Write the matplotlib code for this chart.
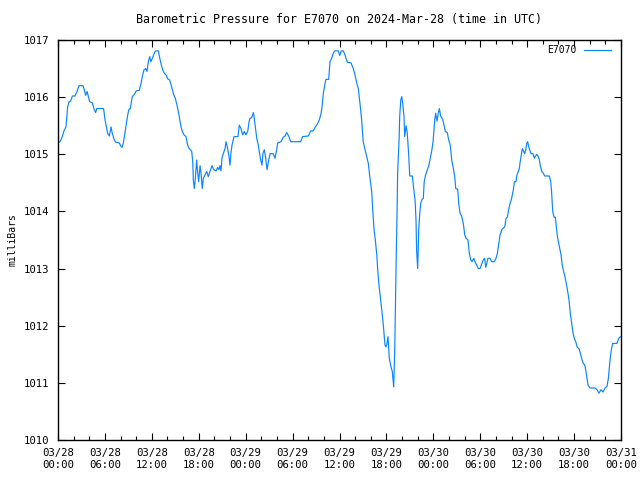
"""Barometric pressure trace for station E7070, gnuplot style."""

import numpy as np
import matplotlib
matplotlib.use("Agg")
import matplotlib.pyplot as plt
import matplotlib.dates as mdates

# hours since 2024-03-28 00:00 UTC
hours = [
    0.00, 0.26, 0.55, 0.77, 1.02, 1.11, 1.24, 1.41, 1.62, 1.83, 2.17, 2.43, 2.69, 3.20,
    3.36, 3.54, 3.71, 3.88, 4.05, 4.39, 4.64, 4.82, 4.95, 5.84, 6.01, 6.23, 6.36, 6.56,
    6.78, 6.94, 7.20, 7.38, 7.84, 8.02, 8.18, 8.35, 8.48, 8.66, 8.91, 9.08, 9.25, 9.50,
    9.76, 10.01, 10.40, 10.61, 10.78, 11.00, 11.22, 11.38, 11.55, 11.73, 11.86, 12.06,
    12.24, 12.41, 12.57, 12.83, 13.01, 13.17, 13.39, 13.59, 13.85, 14.03, 14.29, 14.54,
    14.80, 15.00, 15.22, 15.47, 15.73, 15.90, 16.11, 16.37, 16.59, 16.79, 17.10, 17.23,
    17.30, 17.43, 17.56, 17.74, 17.82, 17.99, 18.16, 18.29, 18.45, 18.58, 18.80, 19.02,
    19.22, 19.44, 19.70, 19.91, 20.21, 20.42, 20.59, 20.72, 20.85, 20.97, 21.14, 21.36,
    21.49, 21.65, 21.83, 22.00, 22.12, 22.25, 22.51, 23.02, 23.19, 23.40, 23.62, 23.83,
    24.04, 24.26, 24.43, 24.55, 24.77, 24.98, 25.10, 25.23, 25.41, 25.62, 25.74, 25.92,
    26.09, 26.22, 26.38, 26.56, 26.73, 26.95, 27.11, 27.54, 27.75, 27.97, 28.10, 28.52,
    28.81, 29.03, 29.25, 29.50, 29.76, 31.04, 31.29, 32.01, 32.32, 32.65, 32.87, 33.16,
    33.42, 33.64, 33.76, 33.93, 34.15, 34.27, 34.62, 34.79, 35.00, 35.21, 35.39, 35.85,
    36.03, 36.23, 36.49, 36.70, 37.00, 37.47, 37.77, 37.98, 38.20, 38.41, 38.62, 38.84,
    39.04, 39.26, 39.48, 39.68, 39.90, 40.12, 40.25, 40.41, 40.58, 40.76, 40.89, 41.05,
    41.27, 41.40, 41.57, 41.73, 41.82, 41.95, 42.08, 42.20, 42.37, 42.59, 42.75, 42.93,
    43.06, 43.23, 43.36, 43.44, 43.61, 43.70, 43.83, 43.96, 44.08, 44.25, 44.34, 44.51,
    44.67, 44.85, 44.98, 45.31, 45.49, 45.66, 45.79, 45.87, 46.00, 46.13, 46.26, 46.38,
    46.55, 46.72, 46.84, 47.02, 47.23, 47.41, 47.57, 47.79, 47.96, 48.09, 48.18, 48.30,
    48.47, 48.64, 48.76, 48.94, 49.20, 49.37, 49.53, 49.79, 49.97, 50.17, 50.35, 50.56,
    50.73, 50.86, 51.12, 51.25, 51.41, 51.63, 51.83, 52.01, 52.18, 52.43, 52.60, 52.78,
    52.95, 53.16, 53.33, 53.55, 53.75, 53.97, 54.19, 54.39, 54.57, 54.70, 54.83, 54.99,
    55.25, 55.47, 55.80, 56.02, 56.18, 56.36, 56.53, 56.78, 57.13, 57.30, 57.46, 57.64,
    57.81, 58.02, 58.23, 58.36, 58.57, 58.70, 58.87, 59.00, 59.09, 59.25, 59.38, 59.51,
    59.69, 59.82, 59.95, 60.07, 60.20, 60.36, 60.49, 60.75, 60.92, 61.04, 61.22, 61.39,
    61.55, 61.68, 61.86, 62.07, 62.24, 62.83, 63.01, 63.14, 63.27, 63.43, 63.60, 63.73,
    63.86, 64.04, 64.16, 64.33, 64.49, 64.67, 64.84, 65.01, 65.19, 65.35, 65.52, 65.70,
    65.86, 66.03, 66.21, 66.38, 66.67, 66.85, 67.01, 67.18, 67.36, 67.49, 67.65, 67.78,
    68.04, 68.68, 68.93, 69.19, 69.45, 69.70, 69.96, 70.21, 70.38, 70.60, 70.77, 70.94,
    71.46, 71.71, 71.97,
]

pressure_mb = [
    1015.20, 1015.22, 1015.31, 1015.41, 1015.48, 1015.65, 1015.83, 1015.92, 1015.93, 1016.02,
    1016.02, 1016.10, 1016.20, 1016.20, 1016.13, 1016.03, 1016.10, 1016.01, 1015.92, 1015.90,
    1015.78, 1015.73, 1015.80, 1015.80, 1015.60, 1015.45, 1015.36, 1015.32, 1015.48, 1015.37,
    1015.25, 1015.21, 1015.20, 1015.15, 1015.12, 1015.19, 1015.31, 1015.48, 1015.69, 1015.79,
    1015.80, 1016.01, 1016.05, 1016.11, 1016.12, 1016.24, 1016.36, 1016.48, 1016.50, 1016.45,
    1016.62, 1016.71, 1016.62, 1016.68, 1016.74, 1016.80, 1016.81, 1016.81, 1016.68, 1016.59,
    1016.48, 1016.42, 1016.38, 1016.32, 1016.30, 1016.18, 1016.04, 1015.98, 1015.86, 1015.69,
    1015.48, 1015.40, 1015.34, 1015.31, 1015.16, 1015.10, 1015.05, 1014.87, 1014.56, 1014.40,
    1014.58, 1014.90, 1014.75, 1014.52, 1014.80, 1014.68, 1014.40, 1014.58, 1014.64, 1014.70,
    1014.61, 1014.70, 1014.80, 1014.73, 1014.71, 1014.77, 1014.73, 1014.80, 1014.71, 1014.93,
    1015.01, 1015.10, 1015.22, 1015.13, 1014.99, 1014.81, 1015.02, 1015.16, 1015.31, 1015.31,
    1015.51, 1015.45, 1015.34, 1015.40, 1015.34, 1015.40, 1015.57, 1015.63, 1015.64, 1015.73,
    1015.63, 1015.48, 1015.28, 1015.16, 1015.05, 1014.90, 1014.81, 1015.02, 1015.08, 1014.93,
    1014.73, 1014.90, 1015.01, 1015.01, 1014.93, 1015.08, 1015.20, 1015.22, 1015.30, 1015.32,
    1015.38, 1015.32, 1015.22, 1015.22, 1015.31, 1015.32, 1015.41, 1015.41, 1015.47, 1015.53,
    1015.60, 1015.71, 1015.83, 1016.07, 1016.24, 1016.31, 1016.31, 1016.62, 1016.68, 1016.77,
    1016.81, 1016.81, 1016.73, 1016.81, 1016.81, 1016.74, 1016.61, 1016.60, 1016.50, 1016.39,
    1016.25, 1016.14, 1015.89, 1015.60, 1015.22, 1015.08, 1014.96, 1014.84, 1014.58, 1014.35,
    1014.03, 1013.68, 1013.50, 1013.24, 1012.98, 1012.71, 1012.45, 1012.28, 1012.07, 1011.81,
    1011.66, 1011.63, 1011.69, 1011.81, 1011.43, 1011.28, 1011.20, 1010.93, 1011.60, 1013.03,
    1014.03, 1014.67, 1015.25, 1015.66, 1015.95, 1016.01, 1015.89, 1015.66, 1015.31, 1015.50,
    1015.37, 1014.99, 1014.62, 1014.62, 1014.40, 1014.20, 1013.85, 1013.30, 1013.00, 1013.68,
    1013.97, 1014.14, 1014.21, 1014.23, 1014.52, 1014.64, 1014.73, 1014.80, 1014.90, 1015.05,
    1015.22, 1015.43, 1015.61, 1015.72, 1015.58, 1015.72, 1015.80, 1015.67, 1015.61, 1015.51,
    1015.40, 1015.38, 1015.25, 1015.16, 1014.90, 1014.75, 1014.61, 1014.40, 1014.39, 1014.14,
    1013.97, 1013.91, 1013.79, 1013.59, 1013.53, 1013.50, 1013.27, 1013.15, 1013.12, 1013.18,
    1013.12, 1013.06, 1013.00, 1013.00, 1013.08, 1013.15, 1013.18, 1013.02, 1013.09, 1013.18,
    1013.18, 1013.12, 1013.12, 1013.18, 1013.26, 1013.43, 1013.59, 1013.69, 1013.73, 1013.88,
    1013.90, 1014.03, 1014.14, 1014.23, 1014.38, 1014.52, 1014.52, 1014.64, 1014.70, 1014.75,
    1014.85, 1014.99, 1015.10, 1015.06, 1015.01, 1015.08, 1015.19, 1015.22, 1015.13, 1015.06,
    1015.01, 1015.01, 1014.93, 1014.96, 1015.00, 1014.97, 1014.91, 1014.80, 1014.70, 1014.67,
    1014.62, 1014.62, 1014.52, 1014.32, 1014.00, 1013.90, 1013.90, 1013.73, 1013.56, 1013.44,
    1013.35, 1013.24, 1013.06, 1012.95, 1012.86, 1012.73, 1012.60, 1012.45, 1012.22, 1012.04,
    1011.87, 1011.78, 1011.72, 1011.63, 1011.59, 1011.49, 1011.40, 1011.34, 1011.31, 1011.23,
    1011.08, 1010.96, 1010.91, 1010.91, 1010.88, 1010.82, 1010.88, 1010.84, 1010.91, 1010.94,
    1011.08, 1011.40, 1011.58, 1011.69, 1011.69, 1011.78, 1011.81,
]

station = "E7070"
start = np.datetime64("2024-03-28T00:00")
end = np.datetime64("2024-03-31T00:00")
yticks = [1010, 1011, 1012, 1013, 1014, 1015, 1016, 1017]

times = start + (np.array(hours) * 60).round().astype("timedelta64[m]")

plt.rcParams["font.family"] = "DejaVu Sans Mono"
plt.rcParams["font.size"] = 7

fig = plt.figure(figsize=(6.4, 4.8), dpi=100)
ax = fig.add_axes([58 / 640, 40 / 480, 563 / 640, 400 / 480])

ax.plot(times, pressure_mb, color="#0a84ff", linewidth=0.85, label=station)

ax.set_xlim(start, end)
ax.set_ylim(1010, 1017)
ax.set_yticks(yticks)
ax.xaxis.set_major_locator(mdates.HourLocator(byhour=[0, 6, 12, 18]))
ax.xaxis.set_minor_locator(mdates.HourLocator(interval=2))
ax.xaxis.set_major_formatter(mdates.DateFormatter("%m/%d\n%H:%M"))

ax.tick_params(which="both", direction="in", top=True, right=True, width=0.8,
               labelsize=7.7)
ax.tick_params(which="major", length=5, pad=6)
ax.tick_params(which="minor", length=3)
for side in ax.spines.values():
    side.set_linewidth(1.0)

ax.set_ylabel("milliBars", labelpad=5)
ax.set_title("Barometric Pressure for %s on 2024-Mar-28 (time in UTC)" % station,
             pad=12)
ax.legend(loc="upper right", bbox_to_anchor=(1.0, 1.012), frameon=False,
          markerfirst=False, handlelength=2.8, borderaxespad=0.6)

fig.savefig("out.png", dpi=100)
